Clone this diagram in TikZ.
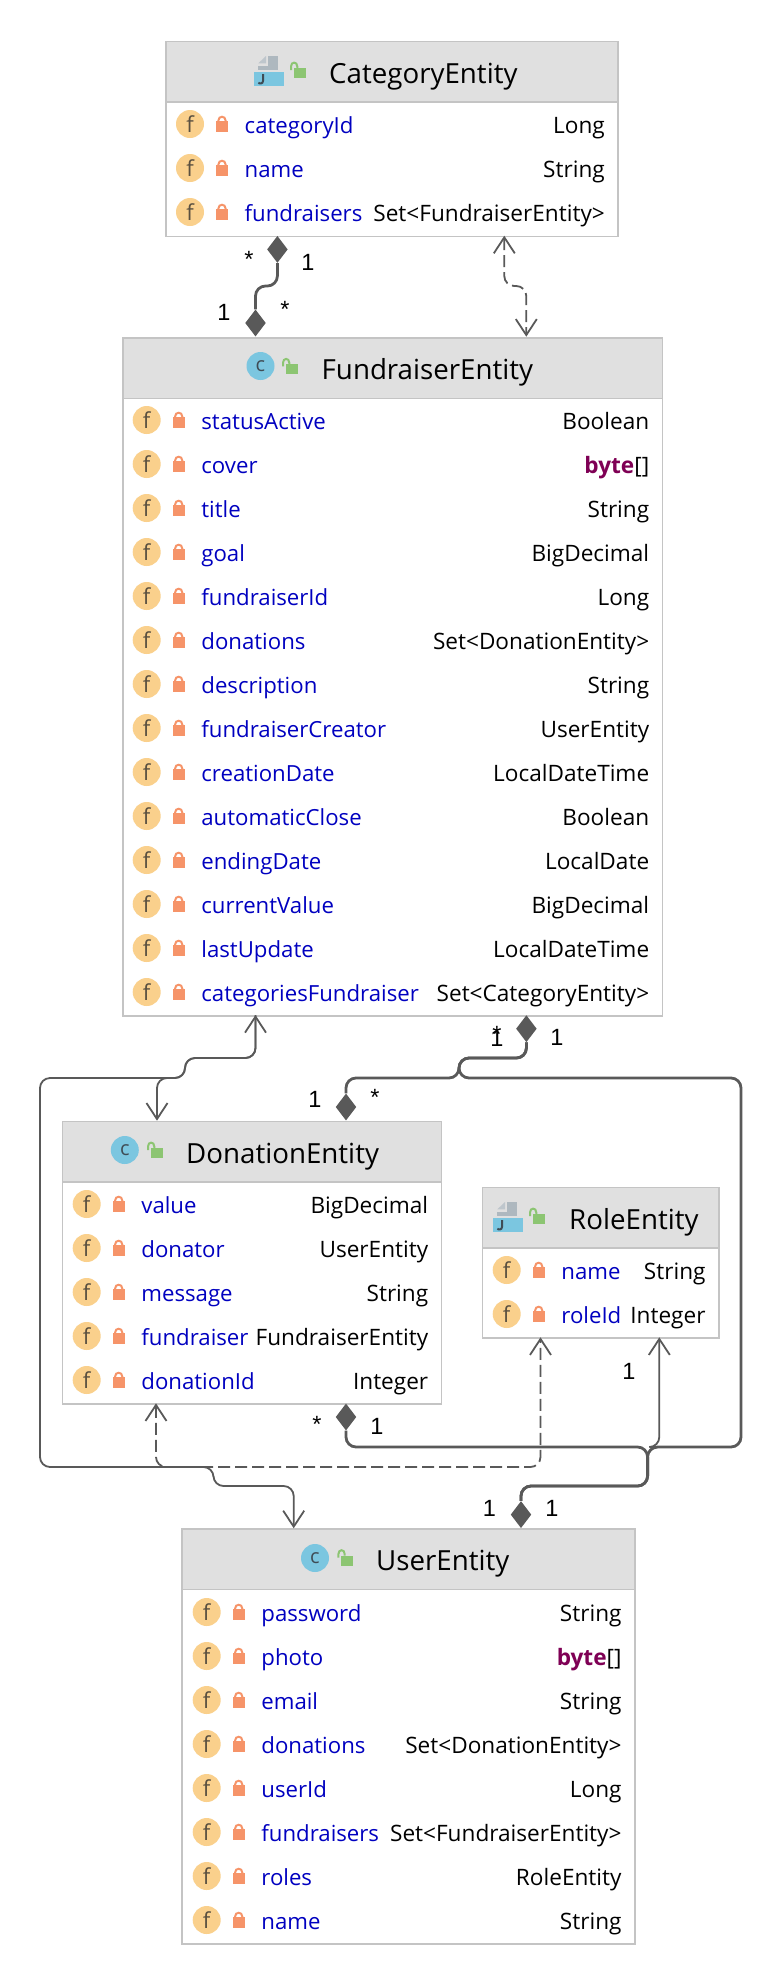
\documentclass[tikz,border=0pt]{standalone}
\usepackage{fontspec}
\setmainfont{Open Sans}
\newfontfamily\labfont{Liberation Sans}
\usetikzlibrary{arrows.meta,shapes.geometric}

\definecolor{linegray}{HTML}{595959}
\definecolor{boxgray}{HTML}{C4C4C4}
\definecolor{headgray}{HTML}{E0E0E0}
\definecolor{fieldblue}{HTML}{0000C0}
\definecolor{kwpurple}{HTML}{7F0055}
\definecolor{lockorange}{HTML}{F69469}
\definecolor{lockgreen}{HTML}{8CC572}
\definecolor{fyellow}{HTML}{FAD08C}
\definecolor{fdark}{HTML}{5A5040}
\definecolor{cblue}{HTML}{7BC6E0}
\definecolor{iconslate}{HTML}{AEB8BF}
\definecolor{icondark}{HTML}{3F4C55}

\tikzset{
	opentip/.tip={Straight Barb[length=16pt, width=21pt, line width=1.8pt]},
	classbox/.style={draw=boxgray, line width=1.5pt, fill=white, anchor=north west, inner sep=0pt},
	headbox/.style={draw=boxgray, line width=1.5pt, fill=headgray, anchor=north west, inner sep=0pt},
	titletext/.style={anchor=base west, inner sep=0pt, font=\fontsize{27.7}{30}\selectfont},
	fieldicon/.style={circle, fill=fyellow, minimum size=28pt, inner sep=0pt, text=fdark, font=\fontsize{22}{24}\selectfont},
	classicon/.style={circle, fill=cblue, minimum size=28pt, inner sep=0pt, text=icondark, font=\fontsize{20}{22}\selectfont},
	fieldname/.style={anchor=base west, inner sep=0pt, text=fieldblue, font=\fontsize{22.2}{24}\selectfont},
	fieldtype/.style={anchor=base east, inner sep=0pt, font=\fontsize{22.6}{24}\selectfont},
	multlabel/.style={inner sep=0pt, font=\labfont\fontsize{23.5}{26}\selectfont},
	compend/.style={diamond, fill=linegray, inner sep=0pt, minimum width=20.6pt, minimum height=27pt, shape aspect=0.76},
	compline/.style={draw=linegray, line width=2.8pt, rounded corners=10pt},
	assocline/.style={draw=linegray, line width=1.8pt, rounded corners=10pt},
	depline/.style={assocline, dash pattern=on 12pt off 5pt},
	lockicon/.pic={
		\fill[lockorange] (-6,-2.7) rectangle (6,8);
		\draw[lockorange, line width=2pt] (-3.6,-2.7) -- (-3.6,-3.5) .. controls (-3.6,-8.5) and (3.6,-8.5) .. (3.6,-3.5) -- (3.6,-2.7);
	},
	openlockicon/.pic={
		\fill[lockgreen] (-6,-5) rectangle (6,5);
		\draw[lockgreen, line width=2pt] (-9,-3) -- (-9,-6.5) .. controls (-9,-11.7) and (-2.7,-11.7) .. (-2.7,-6.5) -- (-2.7,-5);
	},
	fileicon/.pic={
		\fill[iconslate] (-1,-15) rectangle (9,-1);
		\fill[iconslate] (-11,-5.3) rectangle (9,-1);
		\fill[iconslate!80] (-10.7,-7.7) -- (-3,-15) -- (-3,-7.7) -- cycle;
		\fill[cblue] (-15,1) rectangle (15,15);
		\draw[icondark, line width=2pt] (-6,3) -- (-6,10) .. controls (-6,13) and (-10,13) .. (-10.5,11.5);
	}
}

% box prefix, left, right, first row, list of fields
\newcommand{\classrows}[5]{
	\foreach \fname/\ftype [count=\i from 0] in {#5}{
		\pgfmathsetmacro{\ry}{#4+44*\i}
		\node[fieldicon] (#1f\i) at (#2+25,\ry) {f};
		\pic at (#2+57,\ry) {lockicon};
		\node[fieldname] (#1n\i) at (#2+79.5,\ry+9.3) {\fname};
		\node[fieldtype] (#1t\i) at (#3-12.3,\ry+9.3) {\ftype};
	}
}

\begin{document}
\begin{tikzpicture}[x=1pt, y=-1pt]
	\path[use as bounding box] (0,0) rectangle (780,1984);
	
	% boxes
	\node[classbox, minimum width=452.3pt, minimum height=195pt] (cat) at (165,40.7) {};
	\node[headbox, minimum width=452.3pt, minimum height=60.5pt] (catH) at (165,40.7) {};
	\node[classbox, minimum width=539.7pt, minimum height=678.3pt] (fund) at (122,337) {};
	\node[headbox, minimum width=539.7pt, minimum height=60.5pt] (fundH) at (122,337) {};
	\node[classbox, minimum width=379pt, minimum height=282.6pt] (don) at (61.7,1120.7) {};
	\node[headbox, minimum width=379pt, minimum height=60.5pt] (donH) at (61.7,1120.7) {};
	\node[classbox, minimum width=236.3pt, minimum height=150.6pt] (role) at (481.7,1186.7) {};
	\node[headbox, minimum width=236.3pt, minimum height=60.5pt] (roleH) at (481.7,1186.7) {};
	\node[classbox, minimum width=452.6pt, minimum height=415pt] (user) at (181.4,1528.3) {};
	\node[headbox, minimum width=452.6pt, minimum height=60.5pt] (userH) at (181.4,1528.3) {};
	
	% titles
	\pic at (269,71) {fileicon};
	\pic at (300,73) {openlockicon};
	\node[titletext] (catT) at (329,83.3) {CategoryEntity};
	\node[classicon] (fundC) at (260.5,366) {c};
	\pic at (292,369.3) {openlockicon};
	\node[titletext] (fundT) at (321.5,379.6) {FundraiserEntity};
	\node[classicon] (donC) at (124.8,1150) {c};
	\pic at (157,1153) {openlockicon};
	\node[titletext] (donT) at (186,1163.3) {DonationEntity};
	\pic at (508,1217) {fileicon};
	\pic at (539,1219) {openlockicon};
	\node[titletext] (roleT) at (569,1229.3) {RoleEntity};
	\node[classicon] (userC) at (315,1558) {c};
	\pic at (347.4,1560.6) {openlockicon};
	\node[titletext] (userT) at (376,1570.9) {UserEntity};
	
	% fields
	\classrows{cat}{165}{617.3}{124}{categoryId/Long, name/String, fundraisers/{Set<FundraiserEntity>}}
	\classrows{fund}{121.7}{661.7}{420}{statusActive/Boolean, cover/{{\bfseries\color{kwpurple}byte}[]}, title/String, goal/BigDecimal, fundraiserId/Long, donations/{Set<DonationEntity>}, description/String, fundraiserCreator/UserEntity, creationDate/LocalDateTime, automaticClose/Boolean, endingDate/LocalDate, currentValue/BigDecimal, lastUpdate/LocalDateTime, categoriesFundraiser/{Set<CategoryEntity>}}
	\classrows{don}{61.7}{440.7}{1204}{value/BigDecimal, donator/UserEntity, message/String, fundraiser/FundraiserEntity, donationId/Integer}
	\classrows{role}{481.7}{718}{1270}{name/String, roleId/Integer}
	\classrows{user}{181.7}{634}{1612}{password/String, photo/{{\bfseries\color{kwpurple}byte}[]}, email/String, donations/{Set<DonationEntity>}, userId/Long, fundraisers/{Set<FundraiserEntity>}, roles/RoleEntity, name/String}
	
	% composition ends
	\node[compend, anchor=north] (catD) at (277.4,235.7) {};
	\node[compend, anchor=south] (fundDt) at (255.5,336.7) {};
	\node[compend, anchor=north] (fundDb) at (526.4,1015) {};
	\node[compend, anchor=south] (donDt) at (346,1120.7) {};
	\node[compend, anchor=north] (donDb) at (346,1403.3) {};
	\node[compend, anchor=south] (userD) at (521,1528.3) {};
	
	% free ends
	\coordinate (catA) at (504.3,235.7);
	\coordinate (fundAt) at (526.3,336.7);
	\coordinate (fundAb) at (255.5,1015);
	\coordinate (donAt) at (157,1120.7);
	\coordinate (donAb) at (156,1403.3);
	\coordinate (roleAl) at (540.5,1337.3);
	\coordinate (roleAr) at (659.3,1337.3);
	\coordinate (userA) at (293.7,1528.3);
	
	% connectors
	\draw[compline] (catD.south) -- (277.4,286) -- (255.5,286) -- (fundDt.north);
	\draw[depline, opentip-opentip] (catA) -- (504.3,286) -- (526.3,286) -- (fundAt);
	\draw[assocline, opentip-opentip] (fundAb) -- (255.5,1058) -- (185,1058) -- (185,1078) -- (157,1078) -- (donAt);
	\draw[assocline, -opentip] (fundAb) -- (255.5,1058) -- (185,1058) -- (185,1078) -- (40,1078) -- (40,1467) -- (213.5,1467) -- (213.5,1486) -- (293.7,1486) -- (userA);
	\draw[compline] (fundDb.south) -- (526.4,1058) -- (459,1058) -- (459,1078) -- (346,1078) -- (donDt.north);
	\draw[compline] (fundDb.south) -- (526.4,1058) -- (459,1058) -- (459,1078) -- (741,1078) -- (741,1447) -- (647.6,1447) -- (647.6,1486) -- (521,1486) -- (userD.north);
	\draw[compline] (donDb.south) -- (346,1447) -- (647.6,1447) -- (647.6,1486) -- (521,1486) -- (userD.north);
	\draw[assocline, opentip-] (roleAr) -- (659.3,1447) -- (647.6,1447) -- (647.6,1486) -- (521,1486) -- (userD.north);
	\draw[depline, opentip-opentip] (donAb) -- (156,1467) -- (540.5,1467) -- (roleAl);
	
	% multiplicities
	\node[multlabel] (m1) at (249,259) {*};
	\node[multlabel] (m2) at (308,262) {1};
	\node[multlabel] (m3) at (224,312) {1};
	\node[multlabel] (m4) at (285,309) {*};
	\node[multlabel] (m5) at (497,1038) {1};
	\node[multlabel] (m6) at (497,1034) {*};
	\node[multlabel] (m7) at (557,1037) {1};
	\node[multlabel] (m8) at (315,1099) {1};
	\node[multlabel] (m9) at (375,1097) {*};
	\node[multlabel] (m10) at (317,1424) {*};
	\node[multlabel] (m11) at (377,1426) {1};
	\node[multlabel] (m12) at (489.5,1508) {1};
	\node[multlabel] (m13) at (552,1508) {1};
	\node[multlabel] (m14) at (629,1371) {1};
\end{tikzpicture}
\end{document}
